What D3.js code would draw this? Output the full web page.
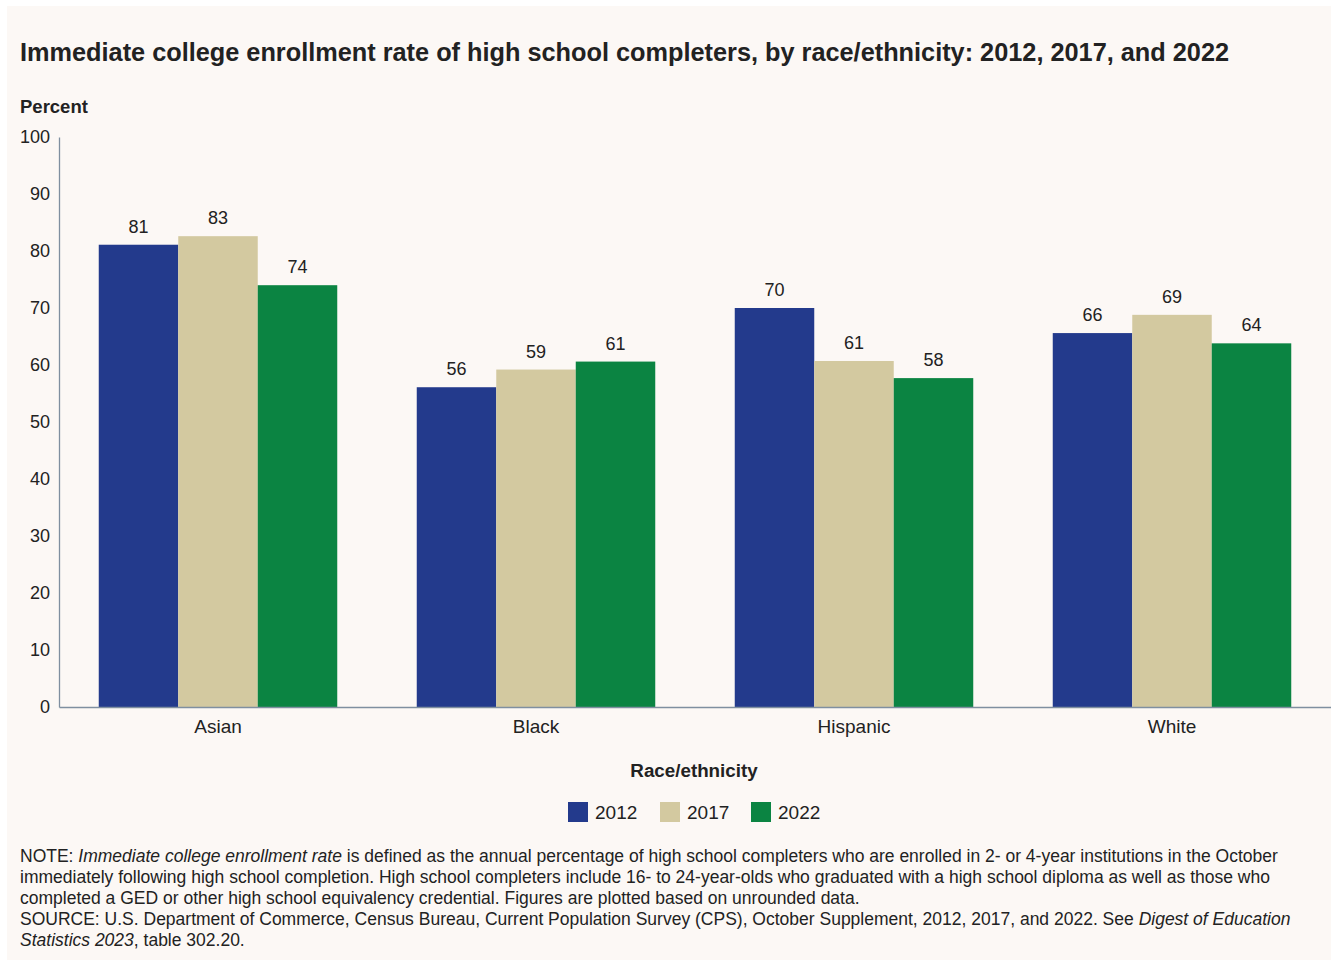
<!DOCTYPE html>
<html>
<head>
<meta charset="utf-8">
<script src="https://cdn.jsdelivr.net/npm/d3@7"></script>
<style>
  body { margin: 0; background: #ffffff; }
  text { font-family: "Liberation Sans", Arial, sans-serif; fill: #222; }
</style>
</head>
<body>
<svg id="chart"></svg>
<script>
// data
var categories = ["Asian", "Black", "Hispanic", "White"];
var years = ["2012", "2017", "2022"];
var values2012 = [81.1, 56.1, 70.0, 65.6];
var values2017 = [82.6, 59.2, 60.7, 68.8];
var values2022 = [74.0, 60.6, 57.7, 63.8];
var yTicks = [0, 10, 20, 30, 40, 50, 60, 70, 80, 90, 100];
var colors = ["#233a8c", "#d3c9a0", "#0b8442"];

var series = [values2012, values2017, values2022];

var svgWidth = 1331, svgHeight = 960;
var margin = { top: 137, right: 0, bottom: 253, left: 59 };

var svg = d3.select("#chart")
    .attr("width", svgWidth)
    .attr("height", svgHeight);

// panel background
svg.append("rect")
    .attr("x", 7)
    .attr("y", 6)
    .attr("width", svgWidth - 7)
    .attr("height", svgHeight - 6)
    .attr("fill", "#fcf8f5");

svg.append("text")
    .attr("x", 20)
    .attr("y", 61)
    .attr("font-size", 25.3)
    .attr("font-weight", "bold")
    .text("Immediate college enrollment rate of high school completers, by race/ethnicity: 2012, 2017, and 2022");

svg.append("text")
    .attr("x", 20)
    .attr("y", 113)
    .attr("font-size", 18.5)
    .attr("font-weight", "bold")
    .text("Percent");

var x0 = d3.scaleBand()
    .domain(categories)
    .range([margin.left, svgWidth - margin.right])
    .paddingInner(0.25)
    .paddingOuter(0.125);

var x1 = d3.scaleBand()
    .domain(years)
    .range([0, x0.bandwidth()]);

var y = d3.scaleLinear()
    .domain([0, 100])
    .range([svgHeight - margin.bottom, margin.top]);

// y axis (labels only, plain line)
var yAxis = svg.append("g")
    .attr("transform", "translate(" + margin.left + ",0)")
    .call(d3.axisLeft(y).tickValues(yTicks).tickSize(0).tickPadding(9));
yAxis.select(".domain").attr("stroke", "#7f8fa0").attr("stroke-width", 1.3);
yAxis.selectAll("text")
    .attr("font-size", 18)
    .attr("font-family", "Liberation Sans, Arial, sans-serif")
    .attr("fill", "#222");

// bars
var groups = svg.selectAll("g.group")
    .data(categories)
    .enter()
    .append("g")
    .attr("class", "group")
    .attr("transform", function(d) { return "translate(" + x0(d) + ",0)"; });

groups.selectAll("rect")
    .data(function(d, i) {
        return years.map(function(yr, j) { return { year: yr, value: series[j][i], color: colors[j] }; });
    })
    .enter()
    .append("rect")
    .attr("x", function(d) { return x1(d.year); })
    .attr("y", function(d) { return y(d.value); })
    .attr("width", x1.bandwidth())
    .attr("height", function(d) { return y(0) - y(d.value); })
    .attr("fill", function(d) { return d.color; });

groups.selectAll("text.val")
    .data(function(d, i) {
        return years.map(function(yr, j) { return { year: yr, value: series[j][i] }; });
    })
    .enter()
    .append("text")
    .attr("class", "val")
    .attr("x", function(d) { return x1(d.year) + x1.bandwidth() / 2; })
    .attr("y", function(d) { return y(d.value) - 12; })
    .attr("text-anchor", "middle")
    .attr("font-size", 18)
    .text(function(d) { return Math.round(d.value); });

// x axis
var xAxis = svg.append("g")
    .attr("transform", "translate(0," + y(0) + ")")
    .call(d3.axisBottom(x0).tickSize(0).tickPadding(13).tickSizeOuter(0));
xAxis.select(".domain").attr("stroke", "#7f8fa0").attr("stroke-width", 1.3);
xAxis.selectAll("text")
    .attr("font-size", 19)
    .attr("font-family", "Liberation Sans, Arial, sans-serif")
    .attr("fill", "#222");

svg.append("text")
    .attr("x", 694)
    .attr("y", 777)
    .attr("text-anchor", "middle")
    .attr("font-size", 18.8)
    .attr("font-weight", "bold")
    .text("Race/ethnicity");

// legend
var legendX = [568, 660, 751];
var legend = svg.selectAll("g.legend")
    .data(years)
    .enter()
    .append("g")
    .attr("class", "legend")
    .attr("transform", function(d, i) { return "translate(" + legendX[i] + ",802)"; });
legend.append("rect")
    .attr("width", 20)
    .attr("height", 20)
    .attr("fill", function(d, i) { return colors[i]; });
legend.append("text")
    .attr("x", 27)
    .attr("y", 17)
    .attr("font-size", 19)
    .text(function(d) { return d; });

// notes
var noteLines = [
    [["NOTE: ", false], ["Immediate college enrollment rate", true], [" is defined as the annual percentage of high school completers who are enrolled in 2- or 4-year institutions in the October", false]],
    [["immediately following high school completion. High school completers include 16- to 24-year-olds who graduated with a high school diploma as well as those who", false]],
    [["completed a GED or other high school equivalency credential. Figures are plotted based on unrounded data.", false]],
    [["SOURCE: U.S. Department of Commerce, Census Bureau, Current Population Survey (CPS), October Supplement, 2012, 2017, and 2022. See ", false], ["Digest of Education", true]],
    [["Statistics 2023", true], [", table 302.20.", false]]
];

var notes = svg.append("g");
noteLines.forEach(function(line, i) {
    var t = notes.append("text")
        .attr("x", 20)
        .attr("y", 862 + i * 21)
        .attr("font-size", 17.5);
    line.forEach(function(part) {
        t.append("tspan")
            .attr("font-style", part[1] ? "italic" : "normal")
            .text(part[0]);
    });
});
</script>
</body>
</html>
